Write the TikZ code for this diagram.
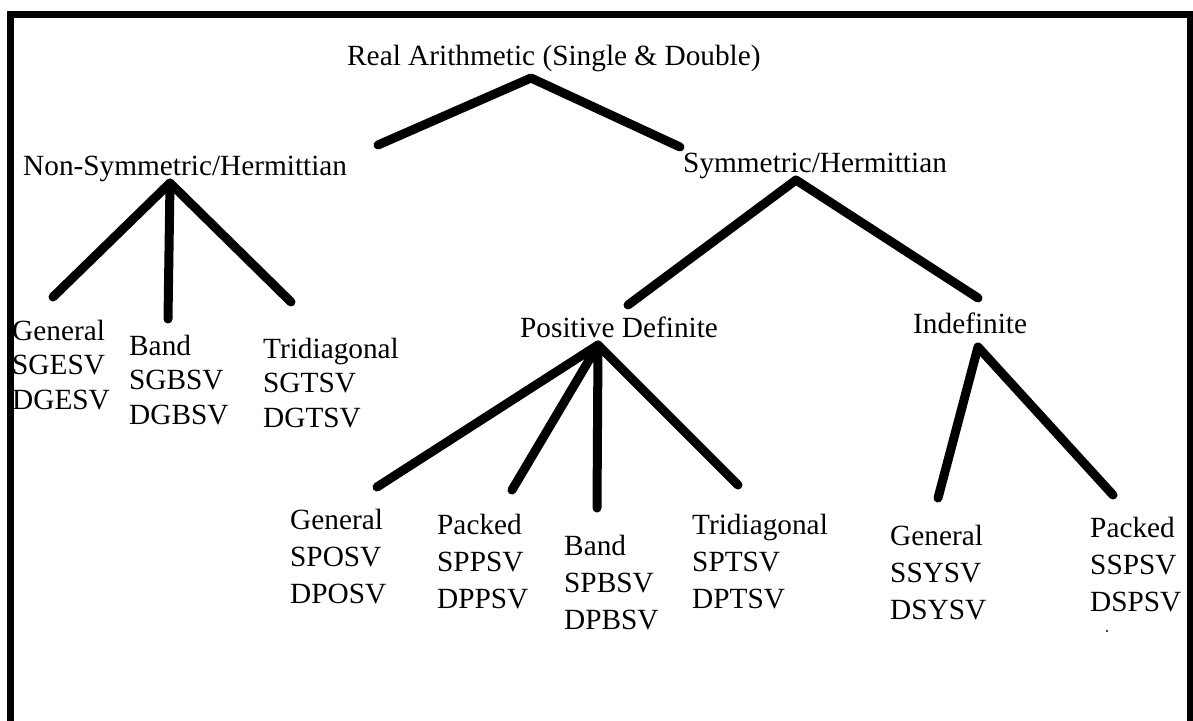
\documentclass[tikz,border=0pt]{standalone}
\usepackage{fontspec}
\setmainfont{Liberation Serif}
% three stacked lines, baseline of the whole box = baseline of the first line
\newcommand{\leafstack}[3]{\vtop{\hbox{#1}\hbox{#2}\hbox{#3}}}
\begin{document}
\begin{tikzpicture}[x=1pt,y=-1pt,
  lbl/.style={inner sep=0pt, anchor=base west, font=\fontsize{29.3}{34}\selectfont},
  leafA/.style={lbl, font=\fontsize{29.3}{34.5}\selectfont},
  leafB/.style={lbl, font=\fontsize{29.3}{37}\selectfont},
  branch/.style={line width=9pt, line cap=round, line join=round},
  frame/.style={line width=7pt}]
\useasboundingbox (0,0) rectangle (1193,720);
\clip (0,0) rectangle (1193,720);

% outer frame (open at the bottom)
\draw[frame] (10,740) -- (10,14) -- (1190,14) -- (1190,740);

% category labels
\node[lbl] (real) at (347,65) {Real Arithmetic (Single \& Double)};
\node[lbl] (nonsym) at (23,175) {Non-Symmetric/Hermittian};
\node[lbl] (sym) at (683,172) {Symmetric/Hermittian};
\node[lbl] (posdef) at (520,337) {Positive Definite};
\node[lbl] (indef) at (913,333) {Indefinite};

% leaves: non-symmetric
\node[leafA] (ngen) at (12,340) {\leafstack{General}{SGESV}{DGESV}};
\node[leafA] (nband) at (129,355) {\leafstack{Band}{SGBSV}{DGBSV}};
\node[leafA] (ntri) at (263,358) {\leafstack{Tridiagonal}{SGTSV}{DGTSV}};

% leaves: positive definite
\node[leafB] (pgen) at (290,529) {\leafstack{General}{SPOSV}{DPOSV}};
\node[leafB] (ppack) at (437,534) {\leafstack{Packed}{SPPSV}{DPPSV}};
\node[leafB] (pband) at (564,555) {\leafstack{Band}{SPBSV}{DPBSV}};
\node[leafB] (ptri) at (692,534) {\leafstack{Tridiagonal}{SPTSV}{DPTSV}};

% leaves: indefinite
\node[leafB] (igen) at (890,545) {\leafstack{General}{SSYSV}{DSYSV}};
\node[leafB] (ipack) at (1090,537) {\leafstack{Packed}{SSPSV}{DSPSV}};
\fill (1107,631) circle (1.2);

% branch points and branch ends
\coordinate (rA) at (531,78);
\coordinate (rL) at (378,145);
\coordinate (rR) at (680,147);

\coordinate (nA) at (170,183);
\coordinate (nL) at (53,297);
\coordinate (nM) at (168,319);
\coordinate (nR) at (291,302);

\coordinate (sA) at (796,180);
\coordinate (sL) at (628,305);
\coordinate (sR) at (978,298);

\coordinate (pA) at (598,345);
\coordinate (p1) at (377,487);
\coordinate (p2) at (512,490);
\coordinate (p3) at (597,508);
\coordinate (p4) at (738,485);

\coordinate (iA) at (978,347);
\coordinate (i1) at (938,498);
\coordinate (i2) at (1113,495);

% branches
\draw[branch] (rL) -- (rA) -- (rR);
\draw[branch] (nL) -- (nA) -- (nR);
\draw[branch] (nA) -- (nM);
\draw[branch] (sL) -- (sA) -- (sR);
\draw[branch] (p1) -- (pA) -- (p4);
\draw[branch] (p2) -- (pA) -- (p3);
\draw[branch] (i1) -- (iA) -- (i2);
\end{tikzpicture}
\end{document}
